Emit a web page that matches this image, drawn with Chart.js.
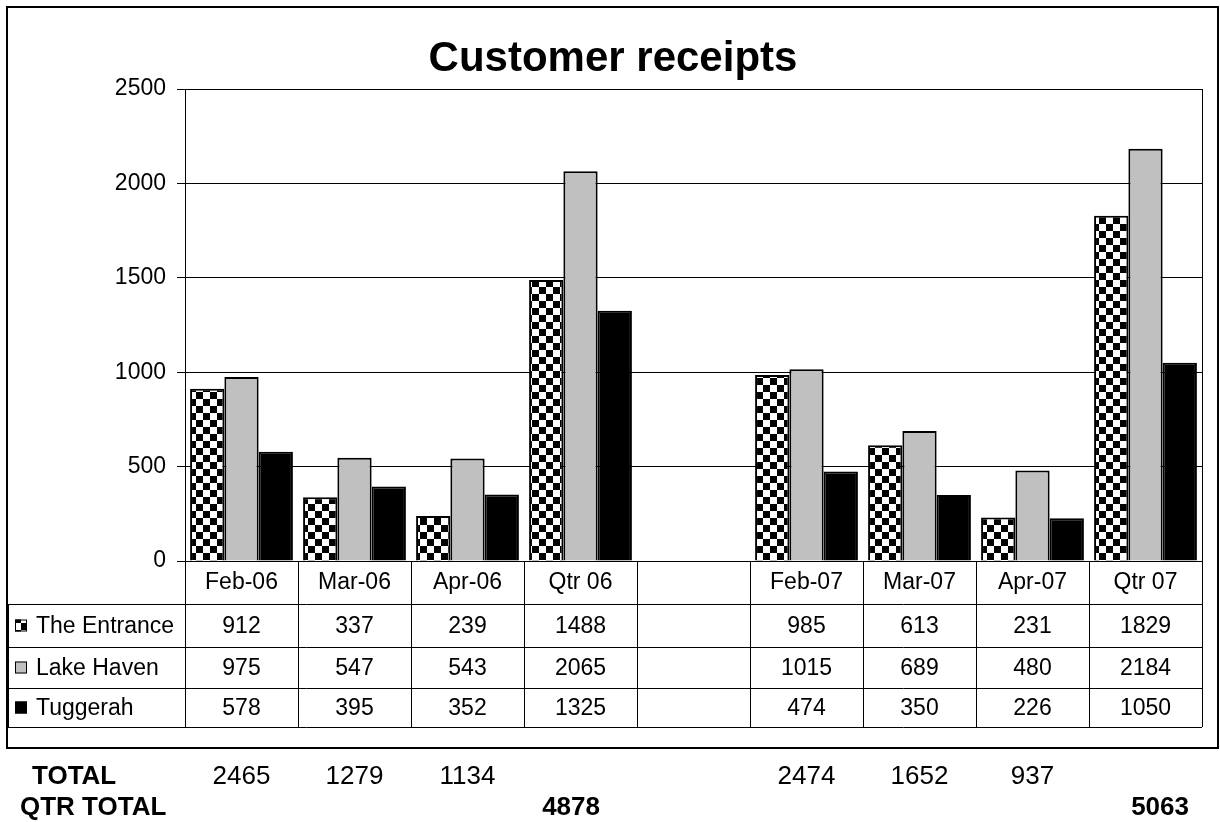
<!DOCTYPE html>
<html>
<head>
<meta charset="utf-8">
<script src="https://cdn.jsdelivr.net/npm/chart.js@4"></script>
<style>
  body { margin: 0; background: #fff; }
  canvas { display: block; background: #fff; }
</style>
</head>
<body>
<canvas id="receiptsChart" width="1220" height="822"></canvas>
<script>
// data
const categories = ['Feb-06', 'Mar-06', 'Apr-06', 'Qtr 06', '', 'Feb-07', 'Mar-07', 'Apr-07', 'Qtr 07'];
const entrance  = [912, 337, 239, 1488, null, 985, 613, 231, 1829];
const lakeHaven = [975, 547, 543, 2065, null, 1015, 689, 480, 2184];
const tuggerah  = [578, 395, 352, 1325, null, 474, 350, 226, 1050];
const seriesNames = ['The Entrance', 'Lake Haven', 'Tuggerah'];
const monthTotals = [2465, 1279, 1134, null, null, 2474, 1652, 937, null];
const qtrTotals = [4878, 5063];
const yTicks = [0, 500, 1000, 1500, 2000, 2500];

const FONT = "'Liberation Sans', Arial, sans-serif";

// checkerboard fill for The Entrance
function makeChecker() {
  const s = 7;
  const pc = document.createElement('canvas');
  pc.width = s * 2; pc.height = s * 2;
  const p = pc.getContext('2d');
  p.fillStyle = '#fff';
  p.fillRect(0, 0, s * 2, s * 2);
  p.fillStyle = '#000';
  p.fillRect(0, 0, s, s);
  p.fillRect(s, s, s, s);
  return p.createPattern(pc, 'repeat');
}

const ctx = document.getElementById('receiptsChart').getContext('2d');
const checker = makeChecker();
const fills = [checker, '#c0c0c0', '#000000'];

// table, frame, title and totals
const tablePlugin = {
  id: 'dataTable',
  afterDraw(chart) {
    const c = chart.ctx;
    const x = chart.scales.x;
    const area = chart.chartArea;
    const rows = [entrance, lakeHaven, tuggerah];
    const rowTop = [area.bottom, 604, 647, 688];
    const tableBottom = 727;
    const tableLeft = 8;
    const colW = (area.right - area.left) / categories.length;

    c.save();
    // outer frame
    c.strokeStyle = '#000';
    c.lineWidth = 2;
    c.strokeRect(7, 7, 1211, 741);

    // title
    c.fillStyle = '#000';
    c.font = 'bold 42px ' + FONT;
    c.textAlign = 'center';
    c.textBaseline = 'alphabetic';
    c.fillText('Customer receipts', 613, 71);

    // plot area border (right side)
    c.lineWidth = 1;
    c.beginPath();
    c.moveTo(area.right + 0.5, area.top);
    c.lineTo(area.right + 0.5, tableBottom);
    c.stroke();

    // table horizontal lines
    c.beginPath();
    c.moveTo(area.left, area.bottom + 0.5);
    c.lineTo(area.right, area.bottom + 0.5);
    for (let i = 1; i < rowTop.length; i++) {
      c.moveTo(tableLeft, rowTop[i] + 0.5);
      c.lineTo(area.right, rowTop[i] + 0.5);
    }
    c.moveTo(tableLeft, tableBottom + 0.5);
    c.lineTo(area.right, tableBottom + 0.5);
    // left edge of legend column
    c.moveTo(tableLeft + 0.5, rowTop[1]);
    c.lineTo(tableLeft + 0.5, tableBottom);
    // column separators
    for (let i = 0; i <= categories.length; i++) {
      const px = Math.round(area.left + i * colW) + 0.5;
      c.moveTo(px, area.bottom);
      c.lineTo(px, tableBottom);
    }
    c.stroke();

    // header labels
    c.font = '23px ' + FONT;
    c.textBaseline = 'middle';
    c.textAlign = 'center';
    categories.forEach((lab, i) => {
      c.fillText(lab, x.getPixelForValue(i), (rowTop[0] + rowTop[1]) / 2);
    });

    // rows
    rows.forEach((vals, r) => {
      const top = rowTop[r + 1];
      const bottom = r + 2 < rowTop.length ? rowTop[r + 2] : tableBottom;
      const cy = (top + bottom) / 2;
      // legend key
      c.fillStyle = fills[r];
      c.fillRect(15, cy - 6, 12, 12);
      c.strokeStyle = '#000';
      c.strokeRect(15.5, cy - 5.5, 11, 11);
      c.fillStyle = '#000';
      c.textAlign = 'left';
      c.fillText(seriesNames[r], 36, cy + 1);
      c.textAlign = 'center';
      vals.forEach((v, i) => {
        if (v !== null) c.fillText(String(v), x.getPixelForValue(i), cy + 1);
      });
    });

    // totals below the frame
    c.font = 'bold 26px ' + FONT;
    c.textAlign = 'left';
    c.fillText('TOTAL', 32, 777);
    c.fillText('QTR TOTAL', 20, 808);
    c.font = '26px ' + FONT;
    c.textAlign = 'center';
    monthTotals.forEach((v, i) => {
      if (v !== null) c.fillText(String(v), x.getPixelForValue(i), 777);
    });
    c.font = 'bold 26px ' + FONT;
    c.textAlign = 'right';
    const qtrRight = [600, 1189];
    qtrTotals.forEach((v, i) => c.fillText(String(v), qtrRight[i], 808));
    c.restore();
  }
};

new Chart(ctx, {
  type: 'bar',
  data: {
    labels: categories,
    datasets: [
      { label: seriesNames[0], data: entrance, backgroundColor: checker, borderColor: '#000', borderWidth: 2 },
      { label: seriesNames[1], data: lakeHaven, backgroundColor: '#c0c0c0', borderColor: '#000', borderWidth: 2 },
      { label: seriesNames[2], data: tuggerah, backgroundColor: '#000', borderColor: '#000', borderWidth: 2 }
    ]
  },
  options: {
    responsive: false,
    animation: false,
    layout: { padding: { left: 0, top: 89, right: 18, bottom: 261 } },
    datasets: { bar: { categoryPercentage: 0.91, barPercentage: 1.0 } },
    scales: {
      x: { display: false },
      y: {
        min: 0,
        max: 2500,
        afterFit(scale) { scale.width = 185; },
        afterBuildTicks(scale) { scale.ticks = yTicks.map(v => ({ value: v })); },
        grid: { color: '#000', lineWidth: 1, tickLength: 8, drawTicks: true },
        border: { color: '#000', width: 1 },
        ticks: {
          color: '#000',
          padding: 11,
          font: { family: FONT, size: 23 },
          callback: v => String(v)
        }
      }
    },
    plugins: {
      legend: { display: false },
      tooltip: { enabled: false },
      title: { display: false }
    }
  },
  plugins: [tablePlugin]
});
</script>
</body>
</html>
